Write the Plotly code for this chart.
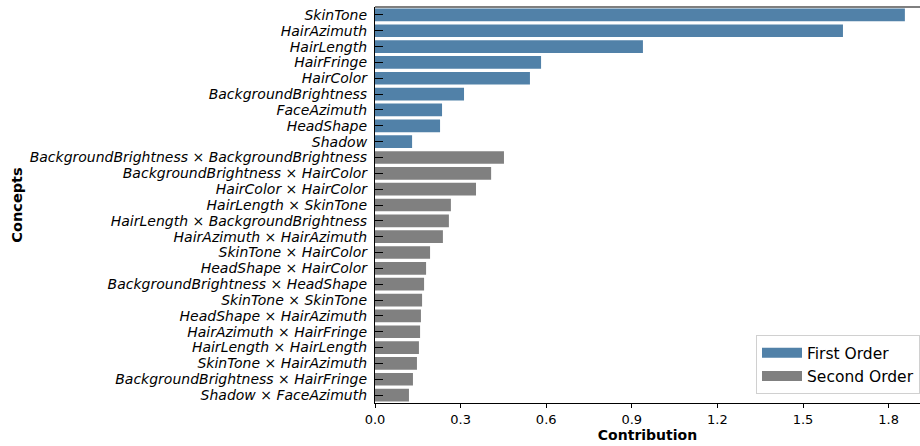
import plotly.graph_objects as go

first_concepts = ["SkinTone", "HairAzimuth", "HairLength", "HairFringe", "HairColor",
                  "BackgroundBrightness", "FaceAzimuth", "HeadShape", "Shadow"]
first_values = [1.857, 1.640, 0.939, 0.582, 0.543, 0.312, 0.235, 0.228, 0.130]

second_concepts = [
    "BackgroundBrightness × BackgroundBrightness",
    "BackgroundBrightness × HairColor",
    "HairColor × HairColor",
    "HairLength × SkinTone",
    "HairLength × BackgroundBrightness",
    "HairAzimuth × HairAzimuth",
    "SkinTone × HairColor",
    "HeadShape × HairColor",
    "BackgroundBrightness × HeadShape",
    "SkinTone × SkinTone",
    "HeadShape × HairAzimuth",
    "HairAzimuth × HairFringe",
    "HairLength × HairLength",
    "SkinTone × HairAzimuth",
    "BackgroundBrightness × HairFringe",
    "Shadow × FaceAzimuth",
]
second_values = [0.452, 0.407, 0.354, 0.266, 0.259, 0.238, 0.193, 0.179, 0.172,
                 0.165, 0.161, 0.158, 0.154, 0.147, 0.133, 0.119]

x_ticks = [0.0, 0.3, 0.6, 0.9, 1.2, 1.5, 1.8]
x_ticklabels = ["0.0", "0.3", "0.6", "0.9", "1.2", "1.5", "1.8"]

all_concepts = first_concepts + second_concepts

blue = "#5181A8"
gray = "#808080"

fig = go.Figure()
fig.add_trace(go.Bar(x=first_values, y=first_concepts, orientation="h",
                     name="First Order", marker=dict(color=blue, line=dict(width=0)),
                     width=0.8, showlegend=False))
fig.add_trace(go.Bar(x=second_values, y=second_concepts, orientation="h",
                     name="Second Order", marker=dict(color=gray, line=dict(width=0)),
                     width=0.8, showlegend=False))
# legend entries drawn as wide rectangle swatches
fig.add_trace(go.Scatter(x=[None], y=[None], mode="lines", name="First Order",
                         line=dict(color=blue, width=11)))
fig.add_trace(go.Scatter(x=[None], y=[None], mode="lines", name="Second Order",
                         line=dict(color=gray, width=11)))

font_family = "DejaVu Sans, sans-serif"
fig.update_layout(
    width=920, height=446,
    margin=dict(l=375, r=0, t=7, b=43),
    plot_bgcolor="white", paper_bgcolor="white",
    barmode="overlay",
    font=dict(family=font_family, size=13, color="black"),
    showlegend=True,
    legend=dict(x=1.0, y=0.022, xanchor="right", yanchor="bottom",
                bgcolor="rgba(255,255,255,0.9)", bordercolor="#d0d0d0", borderwidth=1,
                font=dict(size=15.5, family=font_family), itemwidth=40,
                tracegroupgap=0),
    xaxis=dict(range=[0, 1.91], tickvals=x_ticks, ticktext=x_ticklabels,
               ticks="outside", ticklen=4, tickcolor="black",
               showline=True, linecolor="black", linewidth=1.2,
               showgrid=False, zeroline=False, mirror=False, automargin=False,
               title=dict(text="<b>Contribution</b>", font=dict(size=14), standoff=4),
               tickfont=dict(size=13)),
    yaxis=dict(categoryorder="array", categoryarray=all_concepts,
               tickmode="array", tickvals=all_concepts,
               autorange="reversed", automargin=False,
               ticks="inside", ticklen=8, tickcolor="black",
               showline=True, linecolor="black", linewidth=1.2,
               showgrid=False, zeroline=False, ticklabelstandoff=4,
               tickfont=dict(size=14, style="italic"),
               title=dict(text="<b>Concepts</b>", font=dict(size=14.5), standoff=3)),
)

fig.add_shape(type="line", xref="paper", yref="paper", x0=0, x1=1, y0=1, y1=1,
              line=dict(color="black", width=1.2))

fig.write_html("out.html", config={"displayModeBar": False},
               post_script="document.body.style.margin='0px';document.body.style.overflow='hidden';")
